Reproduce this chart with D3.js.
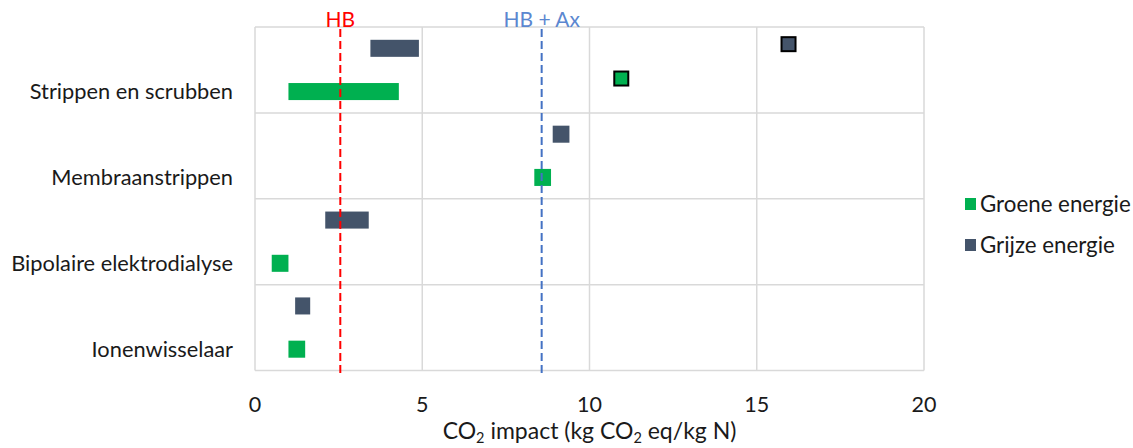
<!DOCTYPE html>
<html>
<head>
<meta charset="utf-8">
<script src="https://cdn.jsdelivr.net/npm/d3@7"></script>
<style>
  html, body { margin: 0; padding: 0; background: #fff; }
  svg text { font-family: Lato, "Open Sans", sans-serif; fill: #1a1a1a; }
</style>
</head>
<body>
<svg id="chart" width="1133" height="448"></svg>
<script>
// Technologies (top to bottom)
const categories = ["Strippen en scrubben", "Membraanstrippen", "Bipolaire elektrodialyse", "Ionenwisselaar"];
// CO2 impact ranges (kg CO2 eq/kg N)
const groenMin = [1.0, 8.35, 0.5, 1.0];
const groenMax = [4.3, 8.85, 1.0, 1.5];
const grijsMin = [3.45, 8.9, 2.1, 1.2];
const grijsMax = [4.9, 9.4, 3.4, 1.65];
// Single-value points plotted on a secondary vertical scale (0–4)
const pointX = [10.95, 15.95];
const pointY = [3.4, 3.8];
const pointSeries = ["groen", "grijs"];
// Reference levels
const refNames = ["HB", "HB + Ax"];
const refValues = [2.55, 8.57];
const refColors = ["#FF0000", "#4472C4"];
// Axis
const xTicks = [0, 5, 10, 15, 20];
const seriesKeys = ["grijs", "groen"];
const seriesNames = { groen: "Groene energie", grijs: "Grijze energie" };
const colors = { groen: "#00B050", grijs: "#44546A" };

const svg = d3.select("#chart");
const plot = { left: 255, right: 924, top: 27, bottom: 370.5 };

const x = d3.scaleLinear().domain([0, 20]).range([plot.left, plot.right]);
const y = d3.scaleBand().domain(categories).range([plot.top, plot.bottom]).padding(0);
const sub = d3.scaleBand().domain(seriesKeys).range([0, y.bandwidth()])
  .paddingInner(0.606).paddingOuter(0.296);
const y2 = d3.scaleLinear().domain([0, 4]).range([plot.bottom, plot.top]);

// Grid
const grid = svg.append("g").attr("stroke", "#d9d9d9").attr("stroke-width", 1.5);
grid.selectAll("line.v").data(xTicks).join("line")
  .attr("x1", d => x(d)).attr("x2", d => x(d))
  .attr("y1", plot.top).attr("y2", plot.bottom);
const hLines = categories.map(c => y(c)).concat([plot.bottom]);
grid.selectAll("line.h").data(hLines).join("line")
  .attr("x1", plot.left).attr("x2", plot.right)
  .attr("y1", d => d).attr("y2", d => d);

// Range bars
const rows = [];
categories.forEach((c, i) => {
  rows.push({ cat: c, key: "grijs", min: grijsMin[i], max: grijsMax[i] });
  rows.push({ cat: c, key: "groen", min: groenMin[i], max: groenMax[i] });
});
svg.append("g").selectAll("rect").data(rows).join("rect")
  .attr("x", d => x(d.min))
  .attr("width", d => x(d.max) - x(d.min))
  .attr("y", d => y(d.cat) + sub(d.key))
  .attr("height", sub.bandwidth())
  .attr("fill", d => colors[d.key]);

// Reference lines
const refs = refNames.map((n, i) => ({ name: n, v: refValues[i], color: refColors[i] }));
const rg = svg.append("g");
rg.selectAll("line").data(refs).join("line")
  .attr("x1", d => x(d.v)).attr("x2", d => x(d.v))
  .attr("y1", plot.top + 2).attr("y2", plot.bottom + 4)
  .attr("stroke", d => d.color).attr("stroke-width", 2)
  .attr("stroke-dasharray", "8,4");
rg.selectAll("text").data(refs).join("text")
  .attr("x", d => x(d.v)).attr("y", plot.top)
  .attr("text-anchor", "middle")
  .style("font-size", "21px")
  .style("fill", d => d.color === "#FF0000" ? "#FF0000" : "#5B87D0")
  .text(d => d.name);

// Single points
const pts = pointX.map((v, i) => ({ x: v, y: pointY[i], key: pointSeries[i] }));
const ps = 14;
svg.append("g").selectAll("rect").data(pts).join("rect")
  .attr("x", d => x(d.x) - ps / 2).attr("y", d => y2(d.y) - ps / 2)
  .attr("width", ps).attr("height", ps)
  .attr("fill", d => colors[d.key])
  .attr("stroke", "#000").attr("stroke-width", 2);

// Category labels
svg.append("g").selectAll("text").data(categories).join("text")
  .attr("x", 233)
  .attr("y", d => y(d) + sub("groen") + sub.bandwidth() / 2)
  .attr("dy", "0.35em")
  .attr("text-anchor", "end")
  .style("font-size", "21.8px")
  .text(d => d);

// X axis tick labels
svg.append("g").selectAll("text").data(xTicks).join("text")
  .attr("x", d => x(d)).attr("y", 412)
  .attr("text-anchor", "middle")
  .style("font-size", "21.5px")
  .text(d => d);

// X axis title
const title = svg.append("text").attr("x", x(10)).attr("y", 439)
  .attr("text-anchor", "middle").style("font-size", "23px");
title.append("tspan").text("CO");
title.append("tspan").attr("dy", 4).style("font-size", "14.5px").text("2");
title.append("tspan").attr("dy", -4).text(" impact (kg CO");
title.append("tspan").attr("dy", 4).style("font-size", "14.5px").text("2");
title.append("tspan").attr("dy", -4).text(" eq/kg N)");

// Legend
const legend = svg.append("g").selectAll("g").data(["groen", "grijs"]).join("g")
  .attr("transform", (d, i) => `translate(965, ${198 + i * 41})`);
legend.append("rect").attr("width", 11).attr("height", 12).attr("fill", d => colors[d]);
legend.append("text").attr("x", 15).attr("y", 6).attr("dy", "0.35em")
  .style("font-size", "22.3px").text(d => seriesNames[d]);
</script>
</body>
</html>
